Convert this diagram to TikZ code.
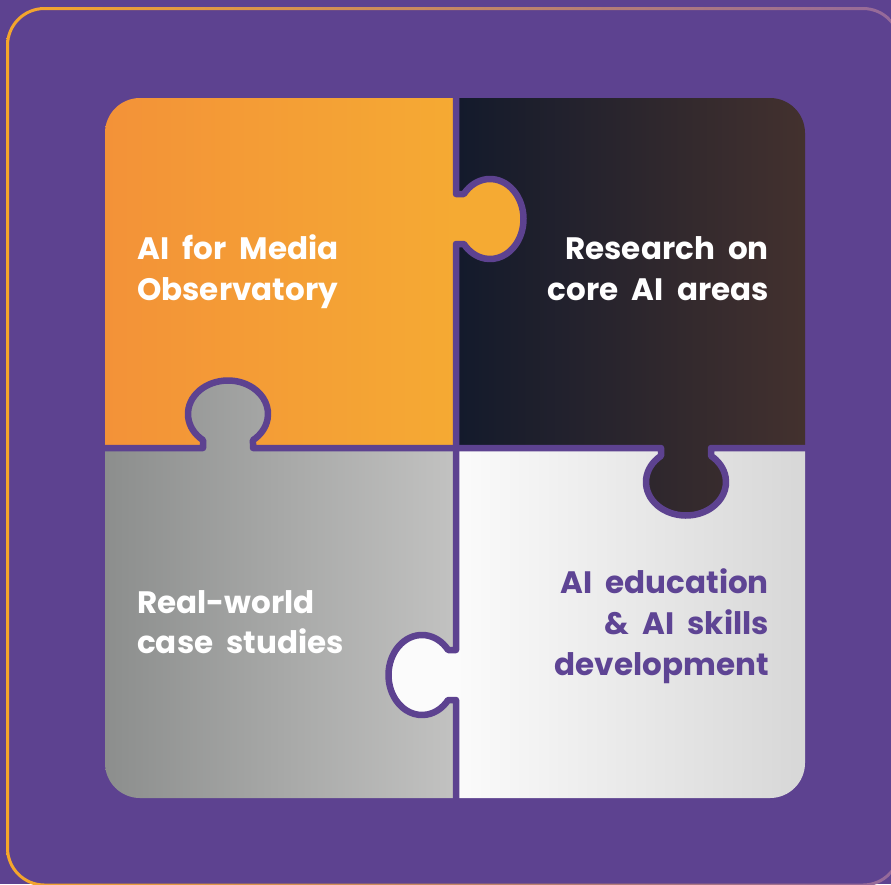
\documentclass[tikz,border=0pt]{standalone}
\usepackage{fontspec}
\setmainfont{Poppins}[WordSpace=2]
\definecolor{bgp}{HTML}{5D4290}
\definecolor{txtp}{HTML}{5E4494}
\definecolor{orA}{HTML}{F39238}
\definecolor{orB}{HTML}{F5AA33}
\definecolor{dkA}{HTML}{131A2C}
\definecolor{dkB}{HTML}{43312E}
\definecolor{grA}{HTML}{8C8E8D}
\definecolor{grB}{HTML}{C2C2C1}
\definecolor{whA}{HTML}{FBFBFB}
\definecolor{whB}{HTML}{D7D7D7}
\definecolor{frA}{HTML}{F5A62B}
\definecolor{frM}{HTML}{E29A45}
\definecolor{frB}{HTML}{94699C}
\begin{document}
\begin{tikzpicture}[x=1pt,y=-1pt,
  lbl/.style={inner sep=0pt, font=\fontsize{31}{31}\selectfont\bfseries},
  divider/.style={draw=bgp, line width=6.5pt, line join=round}]
\useasboundingbox (0,0) rectangle (891,884);
\fill[bgp] (0,0) rectangle (891,884);
% outer frame ring
\shade[even odd rule, left color=frA, middle color=frM, right color=frB]
  [rounded corners=38.5pt] (6,7) rectangle (901.5,886.5)
  [rounded corners=35.5pt] (9,10) rectangle (898.5,883.5);
% puzzle quadrants
\begin{scope}
  \clip[rounded corners=35pt] (105,98) rectangle (805,798);
  \shade[left color=orA, right color=orB] (105,98) rectangle (456,448);
  \shade[left color=dkA, right color=dkB] (456,98) rectangle (805,448);
  \shade[left color=grA, right color=grB] (105,448) rectangle (456,798);
  \shade[left color=whA, right color=whB] (456,448) rectangle (805,798);
\end{scope}
% tab 1: orange into dark
\fill[orB] (456,194) -- (463.85,194)
  arc[start angle=-141.32, end angle=141.32, x radius=33.5, y radius=40] -- (456,244) -- cycle;
% tab 4: white into gray
\fill[whA] (456,650) -- (448.15,650)
  arc[start angle=321.32, end angle=38.68, x radius=33.5, y radius=40] -- (456,700) -- cycle;
% tab 2: gray into orange
\begin{scope}
  \clip (203,448) -- (203,440.15)
    arc[start angle=128.68, end angle=411.32, x radius=40, y radius=33.5] -- (253,448) -- cycle;
  \shade[left color=grA, right color=grB] (105,370) rectangle (456,798);
\end{scope}
% tab 3: dark into white
\begin{scope}
  \clip (661,448) -- (661,455.85)
    arc[start angle=231.32, end angle=-51.32, x radius=40, y radius=33.5] -- (711,448) -- cycle;
  \shade[left color=dkA, right color=dkB] (456,98) rectangle (805,520);
\end{scope}
% dividers
\draw[divider] (456,96) -- (456,194) -- (463.85,194)
  arc[start angle=-141.32, end angle=141.32, x radius=33.5, y radius=40]
  -- (456,244) -- (456,650) -- (448.15,650)
  arc[start angle=321.32, end angle=38.68, x radius=33.5, y radius=40]
  -- (456,700) -- (456,800);
\draw[divider] (103,448) -- (203,448) -- (203,440.15)
  arc[start angle=128.68, end angle=411.32, x radius=40, y radius=33.5]
  -- (253,448) -- (661,448) -- (661,455.85)
  arc[start angle=231.32, end angle=-51.32, x radius=40, y radius=33.5]
  -- (711,448) -- (807,448);
% texts
\node[lbl, white, anchor=base west] (tla) at (137,259) {AI for Media};
\node[lbl, white, anchor=base west] (tlb) at (137,300) {Observatory};
\node[lbl, white, anchor=base east] (tra) at (769,259) {Research on};
\node[lbl, white, anchor=base east] (trb) at (769,300) {core AI areas};
\node[lbl, white, anchor=base west] (bla) at (137,613) {Real-world};
\node[lbl, white, anchor=base west] (blb) at (137,653) {case studies};
\node[lbl, txtp, anchor=base east] (bra) at (769,593) {AI education};
\node[lbl, txtp, anchor=base east] (brb) at (769,634) {\& AI skills};
\node[lbl, txtp, anchor=base east] (brc) at (769,675) {development};
\end{tikzpicture}
\end{document}
